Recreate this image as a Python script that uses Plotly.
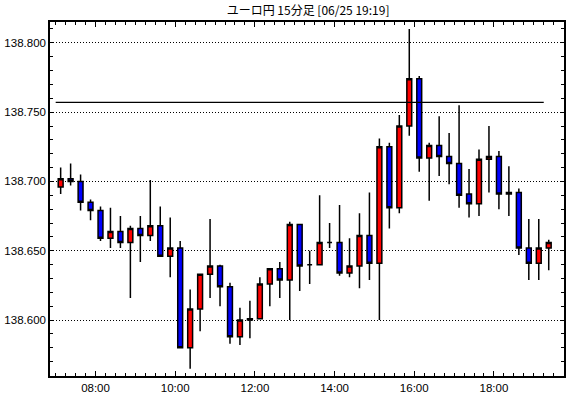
import pandas as pd
import plotly.graph_objects as go

# 15-minute candles, 06/25 07:00 .. 19:15
start_time = "2024-06-25 07:00"
n_bars = 50
times = pd.date_range(start_time, periods=n_bars, freq="15min")

open_ = [138.696, 138.702, 138.700, 138.685, 138.679, 138.659, 138.664, 138.656, 138.666, 138.661,
         138.668, 138.646, 138.652, 138.580, 138.608, 138.633, 138.639, 138.624, 138.588, 138.600,
         138.601, 138.626, 138.637, 138.629, 138.669, 138.640, 138.640, 138.656, 138.656, 138.634,
         138.639, 138.661, 138.641, 138.725, 138.681, 138.740, 138.774, 138.717, 138.726, 138.718,
         138.713, 138.691, 138.684, 138.716, 138.718, 138.691, 138.692, 138.652, 138.641, 138.652]
high = [138.710, 138.713, 138.705, 138.687, 138.682, 138.681, 138.675, 138.668, 138.675, 138.701,
        138.682, 138.674, 138.657, 138.622, 138.633, 138.673, 138.640, 138.627, 138.609, 138.614,
        138.631, 138.637, 138.642, 138.671, 138.669, 138.650, 138.690, 138.670, 138.683, 138.659,
        138.677, 138.692, 138.731, 138.728, 138.748, 138.810, 138.776, 138.728, 138.747, 138.735,
        138.755, 138.709, 138.723, 138.740, 138.722, 138.711, 138.695, 138.673, 138.673, 138.658]
low = [138.691, 138.697, 138.679, 138.672, 138.657, 138.652, 138.652, 138.616, 138.642, 138.657,
       138.646, 138.631, 138.580, 138.565, 138.592, 138.616, 138.610, 138.583, 138.582, 138.587,
       138.601, 138.610, 138.616, 138.600, 138.621, 138.626, 138.640, 138.652, 138.632, 138.631,
       138.623, 138.629, 138.600, 138.666, 138.677, 138.733, 138.707, 138.686, 138.704, 138.698,
       138.681, 138.674, 138.675, 138.692, 138.680, 138.675, 138.647, 138.629, 138.629, 138.636]
close = [138.702, 138.700, 138.685, 138.679, 138.659, 138.664, 138.656, 138.666, 138.661, 138.668,
         138.646, 138.652, 138.580, 138.608, 138.633, 138.639, 138.624, 138.588, 138.600, 138.601,
         138.626, 138.637, 138.629, 138.669, 138.639, 138.640, 138.656, 138.656, 138.634, 138.639,
         138.661, 138.641, 138.725, 138.681, 138.740, 138.774, 138.717, 138.726, 138.718, 138.713,
         138.690, 138.684, 138.716, 138.718, 138.691, 138.692, 138.652, 138.641, 138.652, 138.656]

ref_level = 138.757
y_ticks = [138.600, 138.650, 138.700, 138.750, 138.800]
title_text = "ユーロ円 15分足 [06/25 19:19]"

# candles drawn at the middle of their 15-minute period
x_mid = times + pd.Timedelta(minutes=7.5)

fig = go.Figure()
fig.add_trace(go.Candlestick(
    x=x_mid, open=open_, high=high, low=low, close=close,
    increasing=dict(fillcolor="#ff0000", line=dict(color="#000000", width=1.5)),
    decreasing=dict(fillcolor="#0000ff", line=dict(color="#000000", width=1.5)),
    whiskerwidth=0, showlegend=False, hoverinfo="skip",
))
fig.add_trace(go.Scatter(
    x=[times[0], times[-1]], y=[ref_level, ref_level], mode="lines",
    line=dict(color="#000000", width=1.3), showlegend=False, hoverinfo="skip",
))

axis_font = dict(family="Liberation Sans, Arial, sans-serif", size=11.5, color="#000000")

fig.update_layout(
    width=570, height=398,
    margin=dict(l=50, r=4, t=22, b=21),
    paper_bgcolor="#ffffff", plot_bgcolor="#ffffff",
    title=dict(text=title_text, x=0.5405, xanchor="center",
               y=1 - 11 / 398, yanchor="middle", yref="container",
               font=dict(family="Noto Sans CJK JP, sans-serif", size=12, color="#000000")),
    boxgap=0.3,
    xaxis=dict(
        type="date",
        range=["2024-06-25 06:51:27", "2024-06-25 19:45:30"],
        rangeslider=dict(visible=False),
        tickformat="%H:%M", dtick=2 * 3600 * 1000, tick0="2024-06-25 00:00",
        ticks="inside", ticklen=5, tickwidth=1, tickcolor="#000000",
        minor=dict(dtick=15 * 60 * 1000, tick0="2024-06-25 00:00", ticks="inside",
                   ticklen=3, tickcolor="#000000", showgrid=False),
        showgrid=False, zeroline=False,
        showline=True, linecolor="#000000", linewidth=1.5, mirror="ticks",
        tickfont=axis_font,
    ),
    yaxis=dict(
        range=[138.5597, 138.8150],
        tickvals=y_ticks, tickformat=".3f",
        ticks="inside", ticklen=4, tickwidth=1, tickcolor="#000000",
        minor=dict(dtick=0.01, tick0=138.6, ticks="inside", ticklen=3,
                   tickcolor="#000000", showgrid=False),
        showgrid=True, gridcolor="#000000", gridwidth=1, griddash="1px,2px",
        zeroline=False,
        showline=True, linecolor="#000000", linewidth=1.5, mirror="ticks",
        tickfont=axis_font,
    ),
)

fig.write_html("out.html")
